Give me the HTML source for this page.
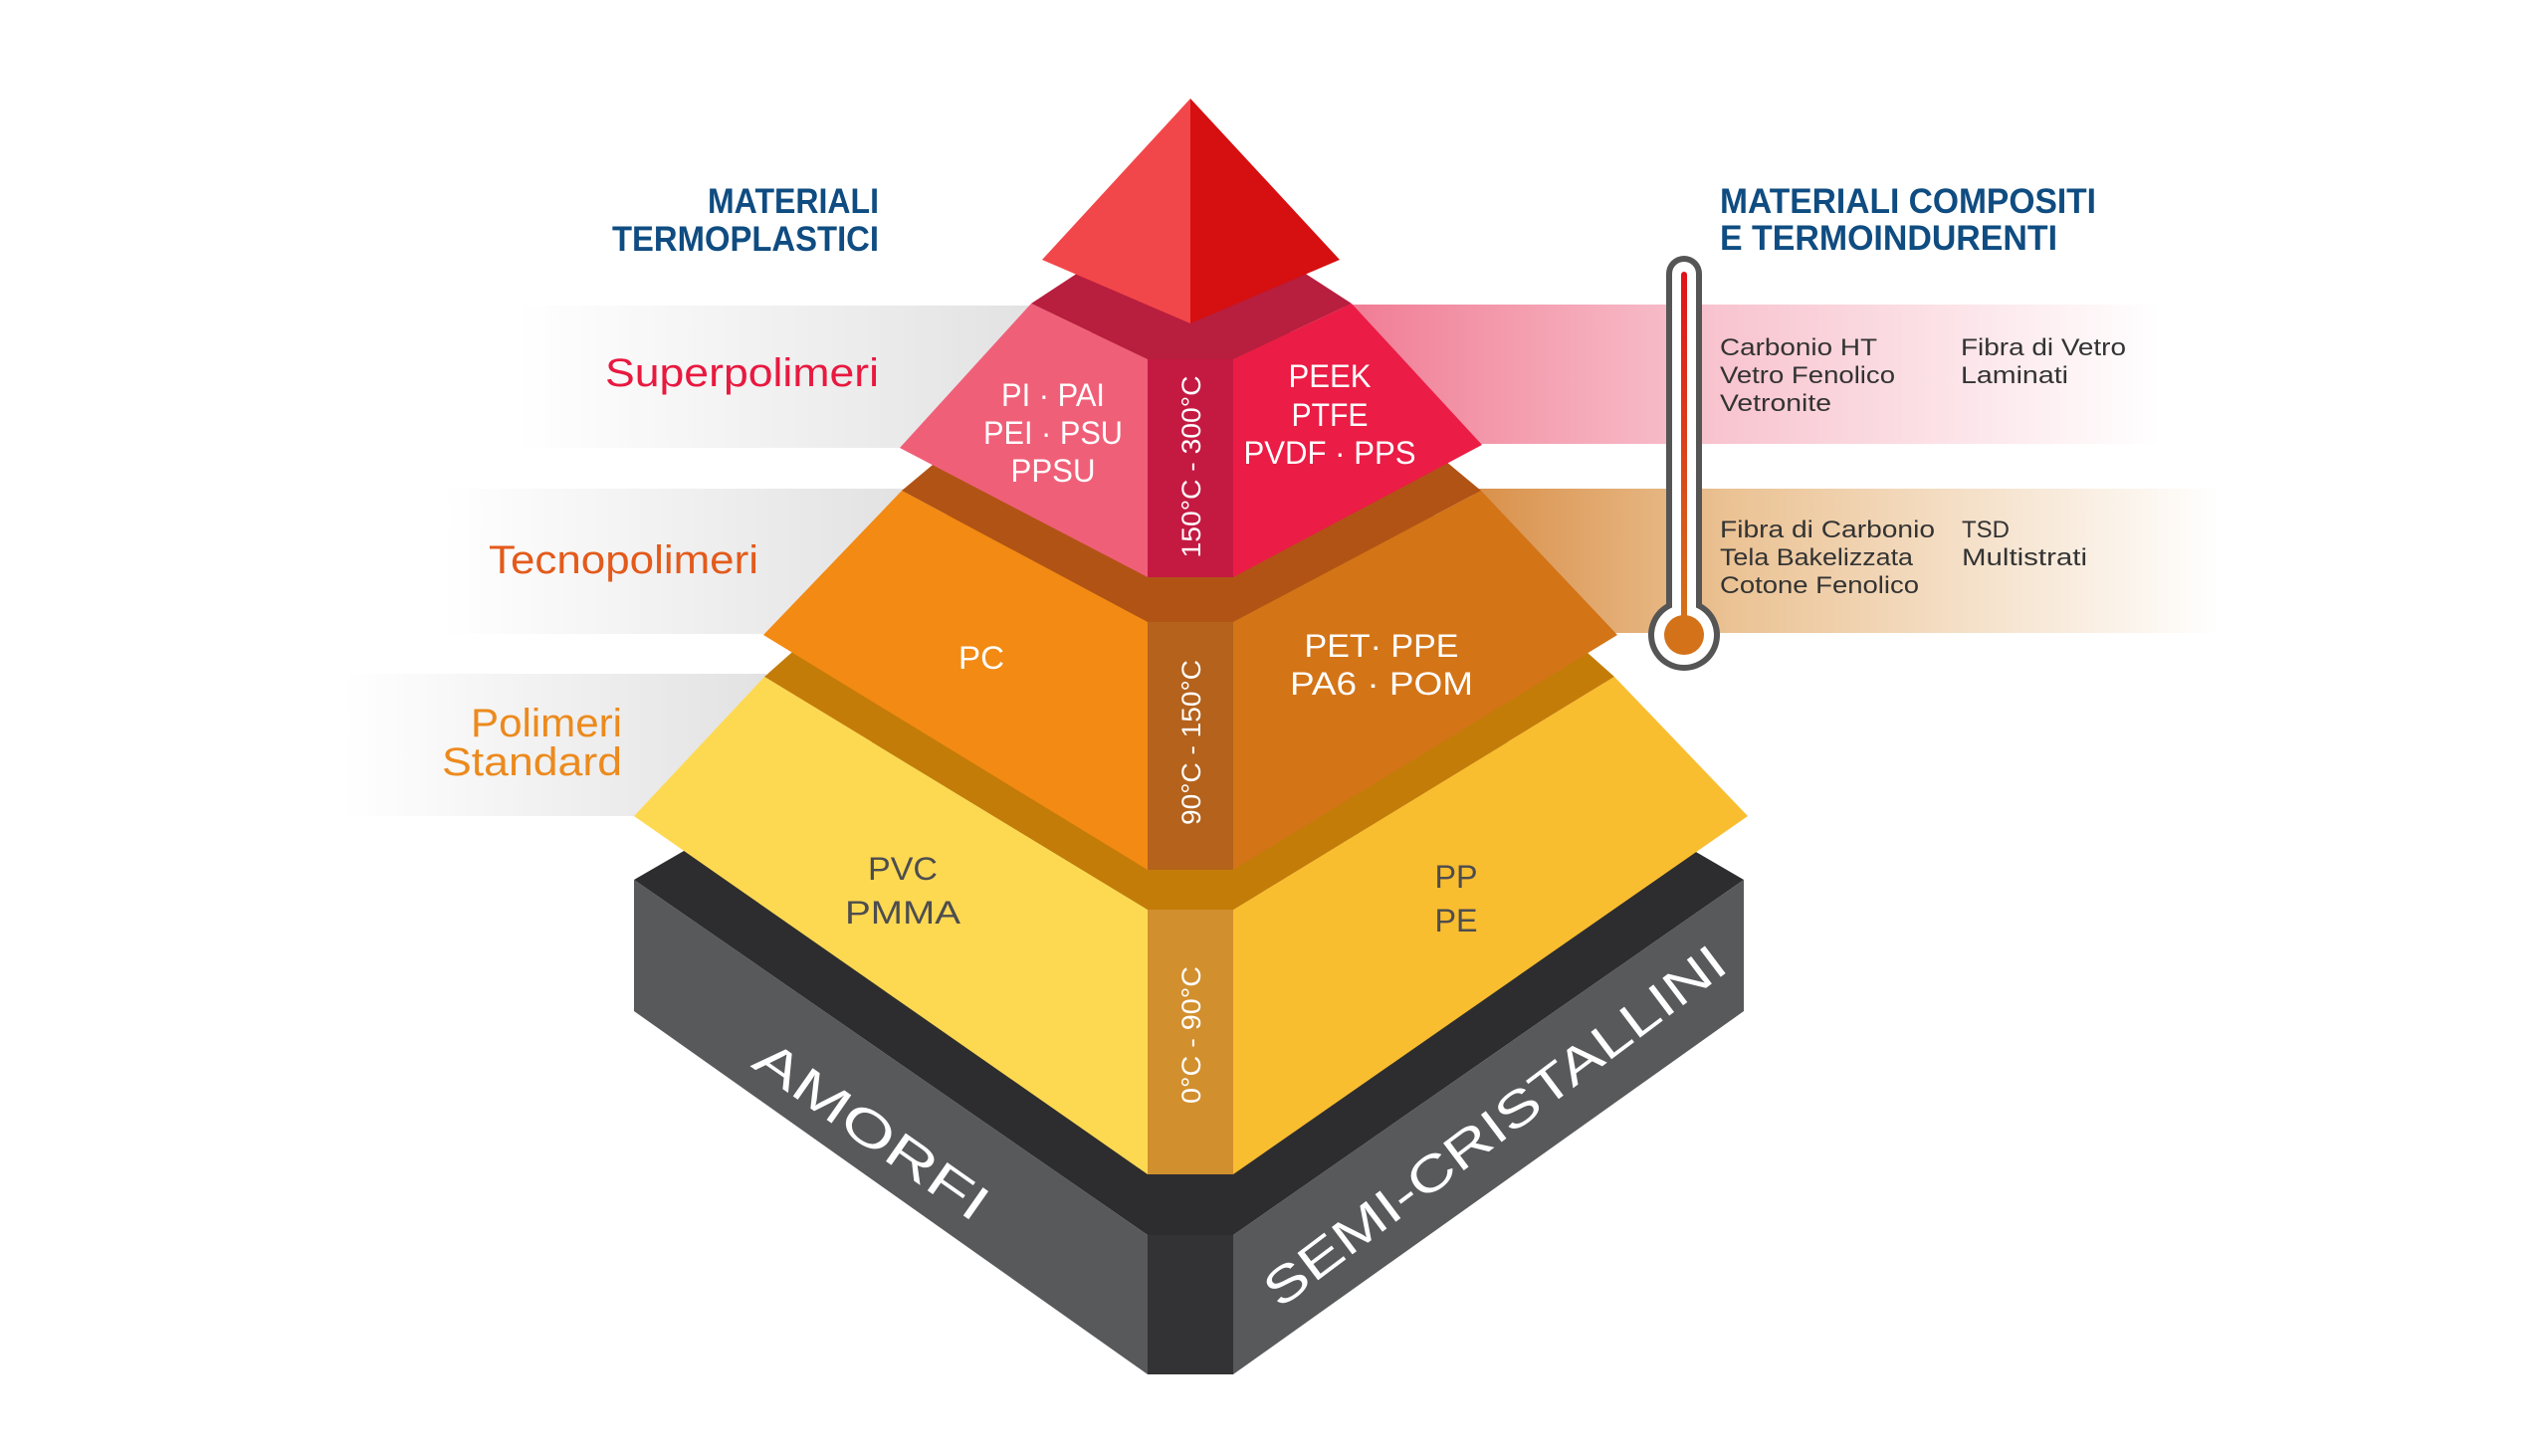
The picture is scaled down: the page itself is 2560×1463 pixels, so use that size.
<!DOCTYPE html>
<html><head><meta charset="utf-8"><style>
html,body{margin:0;padding:0;background:#fff;width:2560px;height:1463px;overflow:hidden}
svg{display:block}
text{font-family:"Liberation Sans",sans-serif}
</style></head><body>
<svg width="2560" height="1463" viewBox="0 0 2560 1463" xmlns="http://www.w3.org/2000/svg">
<defs>
<linearGradient id="gl1" x1="0" x2="1" y1="0" y2="0"><stop offset="0" stop-color="#fff"/><stop offset="1" stop-color="#e2e2e3"/></linearGradient>
<linearGradient id="gpink" x1="0" x2="1" y1="0" y2="0"><stop offset="0" stop-color="#f07b93"/><stop offset="0.45" stop-color="#f8c3ce"/><stop offset="1" stop-color="#fff"/></linearGradient>
<linearGradient id="gtan" x1="0" x2="1" y1="0" y2="0"><stop offset="0" stop-color="#d9904a"/><stop offset="0.35" stop-color="#ebc395"/><stop offset="1" stop-color="#fff"/></linearGradient>
<linearGradient id="gtube" x1="0" x2="0" y1="0" y2="1"><stop offset="0" stop-color="#e0121a"/><stop offset="1" stop-color="#d4721a"/></linearGradient>
</defs>

<!-- strips -->
<rect x="520" y="307" width="520" height="143" fill="url(#gl1)"/>
<rect x="445" y="491" width="465" height="146" fill="url(#gl1)"/>
<rect x="345" y="677" width="425" height="143" fill="url(#gl1)"/>
<rect x="1350" y="306" width="820" height="140" fill="url(#gpink)"/>
<rect x="1480" y="491" width="750" height="145" fill="url(#gtan)"/>

<!-- base -->
<polygon points="637,884 1196,560 1752,884 1239,1241 1153,1241" fill="#2d2d2f"/>
<polygon points="637,884 1153,1241 1153,1381 637,1016" fill="#58595b"/>
<polygon points="1752,884 1239,1241 1239,1381 1752,1016" fill="#58595b"/>
<rect x="1153" y="1241" width="86" height="140" fill="#333335"/>

<!-- standard -->
<polygon points="768,680 1196,300 1622,680 1239,914 1153,914" fill="#c47c08"/>
<polygon points="768,680 1153,914 1153,1180 637,820" fill="#fdd952"/>
<polygon points="1622,680 1756,820 1239,1180 1239,914" fill="#f9bd30"/>
<rect x="1153" y="914" width="86" height="266" fill="#d28f2e"/>

<!-- tecno -->
<polygon points="906,493 1196,250 1488,493 1239,625 1153,625" fill="#b15315"/>
<polygon points="906,493 1153,625 1153,874 767,638" fill="#f28a13"/>
<polygon points="1488,493 1625,638 1239,874 1239,625" fill="#d37417"/>
<rect x="1153" y="625" width="86" height="249" fill="#b4621c"/>

<!-- super -->
<polygon points="1036,305 1196,200 1358,305 1239,361 1153,361" fill="#b81e3e"/>
<polygon points="1036,305 1153,361 1153,580 904,450" fill="#f05f78"/>
<polygon points="1358,305 1489,447 1239,580 1239,361" fill="#eb1c45"/>
<rect x="1153" y="361" width="86" height="219" fill="#c41a42"/>

<!-- tip -->
<polygon points="1196,99 1047,261 1196,325" fill="#f2474a"/>
<polygon points="1196,99 1346,261 1196,325" fill="#d60f10"/>

<!-- thermometer -->
<rect x="1674" y="257" width="36" height="383" rx="18" fill="#555"/>
<circle cx="1692" cy="638" r="36" fill="#555"/>
<rect x="1680" y="263" width="24" height="377" rx="12" fill="#fff"/>
<circle cx="1692" cy="638" r="30" fill="#fff"/>
<rect x="1689" y="273" width="6" height="350" rx="3" fill="url(#gtube)"/>
<circle cx="1692" cy="638" r="20" fill="#d4721a"/>

<!-- headings -->
<g fill="#0f4c81" font-weight="bold" font-size="35">
<text x="883" y="214" text-anchor="end" textLength="172" lengthAdjust="spacingAndGlyphs">MATERIALI</text>
<text x="883" y="252" text-anchor="end" textLength="268" lengthAdjust="spacingAndGlyphs">TERMOPLASTICI</text>
<text x="1728" y="214" textLength="378" lengthAdjust="spacingAndGlyphs">MATERIALI COMPOSITI</text>
<text x="1728" y="251" textLength="339" lengthAdjust="spacingAndGlyphs">E TERMOINDURENTI</text>
</g>
<g font-size="40">
<text x="608" y="388" fill="#e8193f" textLength="275" lengthAdjust="spacingAndGlyphs">Superpolimeri</text>
<text x="491" y="576" fill="#e35a1b" textLength="271" lengthAdjust="spacingAndGlyphs">Tecnopolimeri</text>
<text x="473" y="740" fill="#ec8a1d" textLength="152" lengthAdjust="spacingAndGlyphs">Polimeri</text>
<text x="444" y="779" fill="#ec8a1d" textLength="181" lengthAdjust="spacingAndGlyphs">Standard</text>
</g>

<!-- right lists -->
<g fill="#333" font-size="24">
<text x="1728" y="357" textLength="158" lengthAdjust="spacingAndGlyphs">Carbonio HT</text>
<text x="1728" y="385" textLength="176" lengthAdjust="spacingAndGlyphs">Vetro Fenolico</text>
<text x="1728" y="413" textLength="112" lengthAdjust="spacingAndGlyphs">Vetronite</text>
<text x="1970" y="357" textLength="166" lengthAdjust="spacingAndGlyphs">Fibra di Vetro</text>
<text x="1970" y="385" textLength="108" lengthAdjust="spacingAndGlyphs">Laminati</text>
<text x="1728" y="540" textLength="216" lengthAdjust="spacingAndGlyphs">Fibra di Carbonio</text>
<text x="1728" y="568" textLength="194" lengthAdjust="spacingAndGlyphs">Tela Bakelizzata</text>
<text x="1728" y="596" textLength="200" lengthAdjust="spacingAndGlyphs">Cotone Fenolico</text>
<text x="1971" y="540" textLength="48" lengthAdjust="spacingAndGlyphs">TSD</text>
<text x="1971" y="568" textLength="126" lengthAdjust="spacingAndGlyphs">Multistrati</text>
</g>

<!-- pyramid labels -->
<g fill="#fff" font-size="32" text-anchor="middle">
<text x="1058" y="408" textLength="104" lengthAdjust="spacingAndGlyphs">PI · PAI</text>
<text x="1058" y="446" textLength="140" lengthAdjust="spacingAndGlyphs">PEI · PSU</text>
<text x="1058" y="484" textLength="85" lengthAdjust="spacingAndGlyphs">PPSU</text>
<text x="1336" y="389" textLength="83" lengthAdjust="spacingAndGlyphs">PEEK</text>
<text x="1336" y="428" textLength="77" lengthAdjust="spacingAndGlyphs">PTFE</text>
<text x="1336" y="466" textLength="173" lengthAdjust="spacingAndGlyphs">PVDF · PPS</text>
<text x="986" y="672" textLength="46" lengthAdjust="spacingAndGlyphs">PC</text>
<text x="1388" y="660" textLength="155" lengthAdjust="spacingAndGlyphs">PET· PPE</text>
<text x="1388" y="698" textLength="184" lengthAdjust="spacingAndGlyphs">PA6 · POM</text>
</g>
<g fill="#4d4d4f" font-size="32" text-anchor="middle">
<text x="907" y="884" textLength="70" lengthAdjust="spacingAndGlyphs">PVC</text>
<text x="907" y="928" textLength="116" lengthAdjust="spacingAndGlyphs">PMMA</text>
<text x="1463" y="892" textLength="43" lengthAdjust="spacingAndGlyphs">PP</text>
<text x="1463" y="936" textLength="43" lengthAdjust="spacingAndGlyphs">PE</text>
</g>

<!-- vertical temps -->
<g fill="#fff" font-size="27" text-anchor="middle">
<text transform="translate(1206,469) rotate(-90)" textLength="183" lengthAdjust="spacingAndGlyphs">150°C - 300°C</text>
<text transform="translate(1206,746) rotate(-90)" textLength="166" lengthAdjust="spacingAndGlyphs">90°C - 150°C</text>
<text transform="translate(1206,1040) rotate(-90)" textLength="138" lengthAdjust="spacingAndGlyphs">0°C - 90°C</text>
</g>

<!-- base labels -->
<g fill="#fff" font-size="50" text-anchor="middle">
<text transform="translate(866,1150) rotate(35)" textLength="275" lengthAdjust="spacingAndGlyphs">AMORFI</text>
<text transform="translate(1512,1145) rotate(-37)" textLength="567" lengthAdjust="spacingAndGlyphs">SEMI-CRISTALLINI</text>
</g>
</svg>
</body></html>
